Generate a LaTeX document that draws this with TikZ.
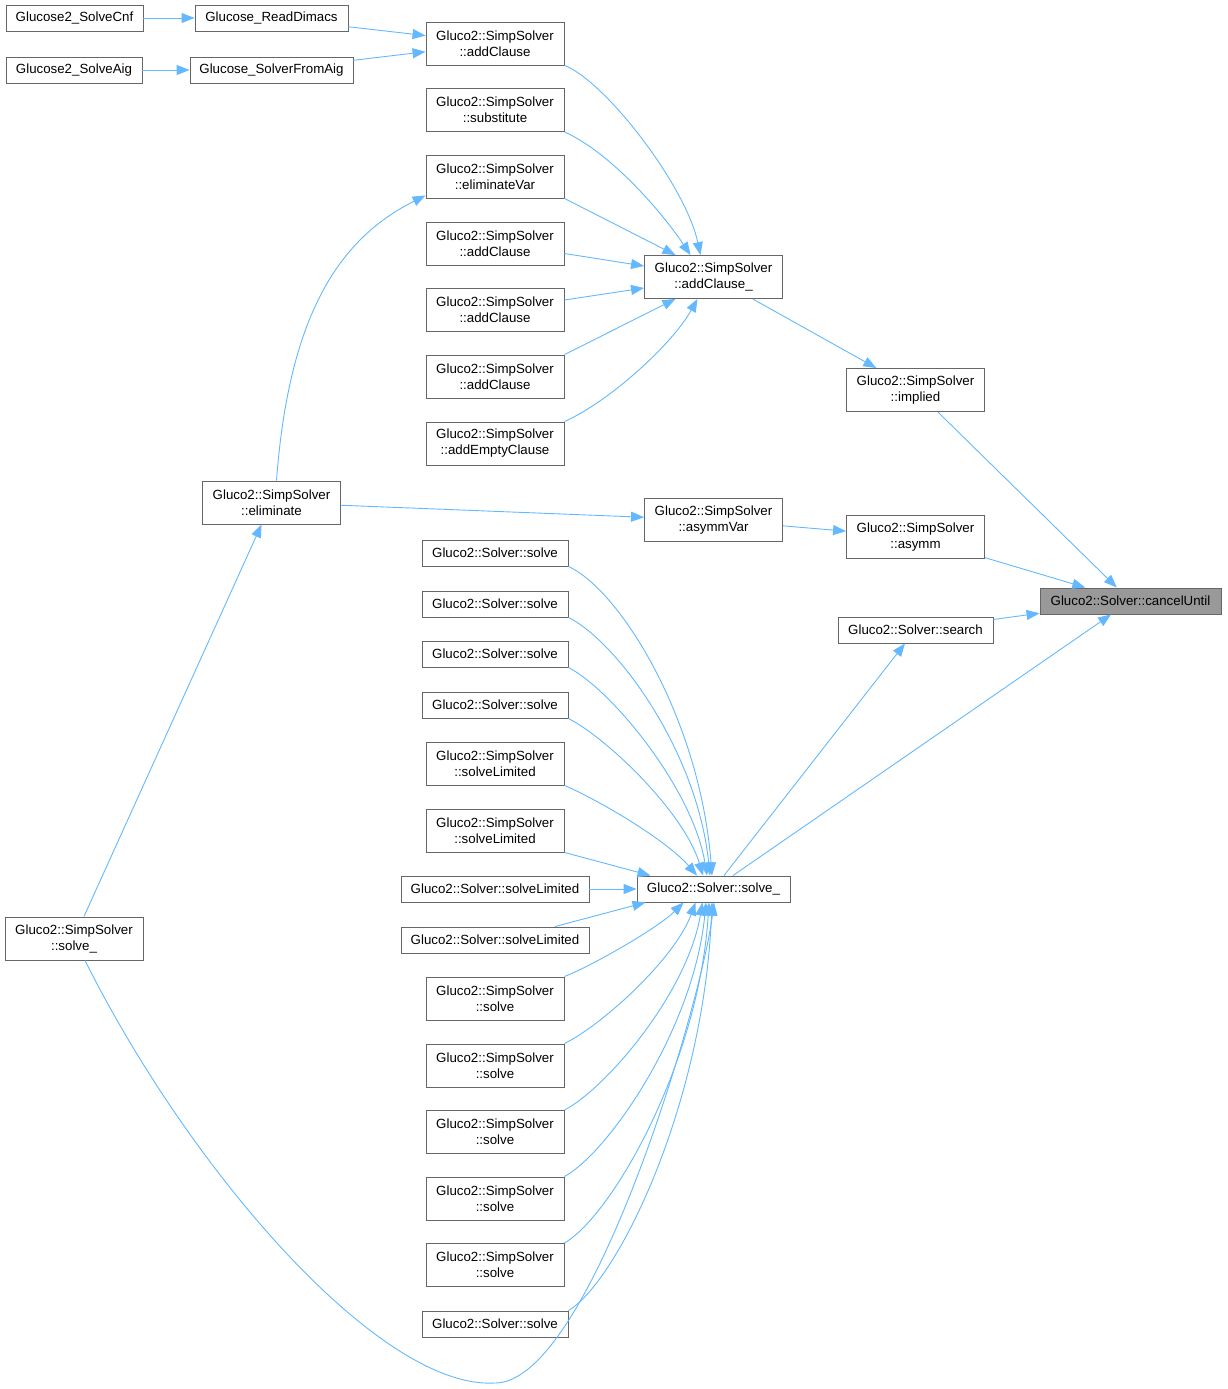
\documentclass[tikz,border=0pt]{standalone}
\usepackage{fontspec}
\setmainfont{Liberation Sans}
\usepackage{xcolor}
\usetikzlibrary{arrows.meta}
\definecolor{cblue}{HTML}{63B8FF}
\definecolor{cgrey}{HTML}{666666}
\definecolor{cfill}{HTML}{999999}

\tikzset{
fn/.style={draw=cgrey, line width=0.9pt, fill=white, inner sep=0pt, align=center,
  font=\fontsize{13.3}{16}\selectfont, minimum height=26pt},
fn2/.style={fn, minimum height=43pt, minimum width=138pt},
call/.style={draw=cblue, line width=0.9pt, -{Triangle[length=13pt,width=10pt]}},
}

\begin{document}
\begin{tikzpicture}[x=1pt,y=1pt]

\useasboundingbox (0,0) rectangle (1227,-1389);

%top left:
\node[fn, minimum width=137pt] (g2cnf) at (74.5,-18) {Glucose2\_SolveCnf};
\node[fn, minimum width=153pt] (readDimacs) at (271.5,-18) {Glucose\_ReadDimacs};
\node[fn, minimum width=136pt] (g2aig) at (74,-70) {Glucose2\_SolveAig};
\node[fn, minimum width=163pt] (fromAig) at (271.5,-70) {Glucose\_SolverFromAig};
%callers of addClause_
\node[fn2] (addCl1) at (495,-43.5) {Gluco2::SimpSolver\\::addClause};
\node[fn2] (substitute) at (495,-110) {Gluco2::SimpSolver\\::substitute};
\node[fn2] (elimVar) at (495,-176.5) {Gluco2::SimpSolver\\::eliminateVar};
\node[fn2] (addCl2) at (495,-243.5) {Gluco2::SimpSolver\\::addClause};
\node[fn2] (addCl3) at (495,-310) {Gluco2::SimpSolver\\::addClause};
\node[fn2] (addCl4) at (495,-376.5) {Gluco2::SimpSolver\\::addClause};
\node[fn2] (addEmpty) at (495,-443.5) {Gluco2::SimpSolver\\::addEmptyClause};
\node[fn2] (addClU) at (713.5,-277) {Gluco2::SimpSolver\\::addClause\_};
\node[fn2] (implied) at (915.5,-390) {Gluco2::SimpSolver\\::implied};
%middle
\node[fn2] (eliminate) at (271.5,-502.5) {Gluco2::SimpSolver\\::eliminate};
\node[fn2] (asymmVar) at (713.5,-520) {Gluco2::SimpSolver\\::asymmVar};
\node[fn2] (asymm) at (915.5,-537) {Gluco2::SimpSolver\\::asymm};
\node[fn, fill=cfill, minimum width=181pt] (cancelUntil) at (1130.5,-601) {Gluco2::Solver::cancelUntil};
\node[fn, minimum width=155pt] (search) at (915.5,-630) {Gluco2::Solver::search};
%callers of solve_
\node[fn, minimum width=146pt] (solve1) at (495,-553) {Gluco2::Solver::solve};
\node[fn, minimum width=146pt] (solve2) at (495,-604) {Gluco2::Solver::solve};
\node[fn, minimum width=146pt] (solve3) at (495,-654) {Gluco2::Solver::solve};
\node[fn, minimum width=146pt] (solve4) at (495,-705) {Gluco2::Solver::solve};
\node[fn2] (sLim1) at (495,-763.5) {Gluco2::SimpSolver\\::solveLimited};
\node[fn2] (sLim2) at (495,-830.5) {Gluco2::SimpSolver\\::solveLimited};
\node[fn, minimum width=188pt] (lim1) at (495,-889) {Gluco2::Solver::solveLimited};
\node[fn, minimum width=188pt] (lim2) at (495,-940) {Gluco2::Solver::solveLimited};
\node[fn2] (sSolve1) at (495,-998.5) {Gluco2::SimpSolver\\::solve};
\node[fn2] (sSolve2) at (495,-1065.5) {Gluco2::SimpSolver\\::solve};
\node[fn2] (sSolve3) at (495,-1132) {Gluco2::SimpSolver\\::solve};
\node[fn2] (sSolve4) at (495,-1198.5) {Gluco2::SimpSolver\\::solve};
\node[fn2] (sSolve5) at (495,-1265) {Gluco2::SimpSolver\\::solve};
\node[fn, minimum width=146pt] (solve5) at (495,-1324) {Gluco2::Solver::solve};
\node[fn, minimum width=153pt] (solveU) at (713.5,-889) {Gluco2::Solver::solve\_};
\node[fn2] (simpSolveU) at (74,-938.5) {Gluco2::SimpSolver\\::solve\_};
\coordinate (low) at (495,-1383);

%calls, top:
\draw[call] (g2cnf) -- (readDimacs);
\draw[call] (g2aig) -- (fromAig);
\draw[call] (readDimacs) -- (addCl1);
\draw[call] (fromAig) -- (addCl1);
\draw[call] (addCl1.south east) .. controls +(40,-15) and +(-15,70) .. ([xshift=-13pt]addClU.north);
\draw[call] (substitute.south east) .. controls +(45,-20) and +(-30,45) .. ([xshift=-23pt]addClU.north);
\draw[call] (elimVar.south east) -- ([xshift=-38pt]addClU.north);
\draw[call] ([yshift=-10pt]addCl2.east) -- ([yshift=11pt]addClU.west);
\draw[call] ([yshift=10pt]addCl3.east) -- ([yshift=-11pt]addClU.west);
\draw[call] (addCl4.north east) -- ([xshift=-38pt]addClU.south);
\draw[call] (addEmpty.north east) .. controls +(45,20) and +(-25,-45) .. ([xshift=-16pt]addClU.south);
\draw[call] (addClU) -- (implied);
\draw[call] (implied) -- (cancelUntil);

%calls, middle:
\draw[call] ([xshift=5pt]eliminate.north) .. controls +(12,160) and +(-90,-45) .. ([yshift=3pt]elimVar.south west);
\draw[call] (eliminate) -- (asymmVar);
\draw[call] (asymmVar) -- (asymm);
\draw[call] (asymm) -- (cancelUntil);
\draw[call] (search) -- (cancelUntil);
\draw[call] (solveU) -- (search);
\draw[call] (solveU) -- (cancelUntil);
\draw[call] (simpSolveU) -- (eliminate);
\draw[call] ([xshift=11pt]simpSolveU.south) .. controls +(105,-210) and +(-115,-7) .. (low)
  .. controls +(95,0) and +(-12,-98) .. ([xshift=0.5pt]solveU.south);

%calls into solve_
\draw[call] (solve1.south east) .. controls +(52,-24) and +(-12,156) .. ([xshift=-1.5pt]solveU.north);
\draw[call] (solve2.south east) .. controls +(47,-23) and +(-13,126) .. ([xshift=-3.5pt]solveU.north);
\draw[call] (solve3.south east) .. controls +(44,-23) and +(-14,86) .. ([xshift=-6.5pt]solveU.north);
\draw[call] (solve4.south east) .. controls +(42,-22) and +(-18,61) .. ([xshift=-10.5pt]solveU.north);
\draw[call] (sLim1.south east) .. controls +(35,-15) and +(-30,35) .. ([xshift=-16.5pt]solveU.north);
\draw[call] (sLim2.south east) -- ([xshift=-63pt]solveU.north);
\draw[call] (lim1) -- (solveU);
\draw[call] ([xshift=60pt]lim2.north) -- ([xshift=-68pt]solveU.south);
\draw[call] (sSolve1.north east) .. controls +(30,12) and +(-25,-25) .. ([xshift=-30pt]solveU.south);
\draw[call] (sSolve2.north east) .. controls +(40,20) and +(-20,-55) .. ([xshift=-18pt]solveU.south);
\draw[call] (sSolve3.north east) .. controls +(42,22) and +(-15,-90) .. ([xshift=-11pt]solveU.south);
\draw[call] (sSolve4.north east) .. controls +(45,25) and +(-12,-125) .. ([xshift=-7.5pt]solveU.south);
\draw[call] (sSolve5.north east) .. controls +(48,28) and +(-10,-160) .. ([xshift=-4.5pt]solveU.south);
\draw[call] (solve5.north east) .. controls +(50,30) and +(-8,-200) .. ([xshift=-1.5pt]solveU.south);

\end{tikzpicture}
\end{document}
